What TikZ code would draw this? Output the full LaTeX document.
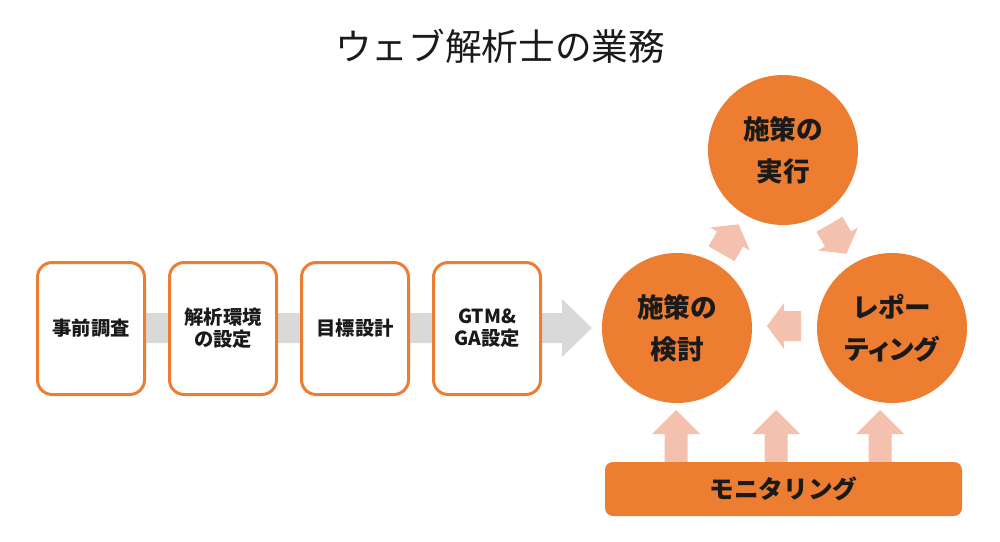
\documentclass[tikz,border=0pt]{standalone}
\usepackage{fontspec}
\setmainfont{Noto Sans CJK JP}
\newfontfamily\jpp{Noto Sans CJK JP}[RawFeature=+palt]
\usetikzlibrary{calc}
\definecolor{orng}{HTML}{ED7D31}
\definecolor{pale}{HTML}{F4C1AE}
\definecolor{band}{HTML}{D9D9D9}
\definecolor{ink}{HTML}{1A1A1A}
\begin{document}
\begin{tikzpicture}[x=0.75pt,y=-0.75pt,
  stepbox/.style={draw=orng, line width=2.25pt, fill=white, rounded corners=11pt,
    minimum width=80.25pt, minimum height=99pt, inner sep=0pt, align=center,
    text=ink, font=\jpp\bfseries\fontsize{14.5}{16.5}\selectfont},
  phase/.style={circle, fill=orng, minimum size=112.5pt, inner sep=0pt, align=center,
    text=ink, font=\jpp\bfseries\fontsize{20}{31.5}\selectfont},
  monbar/.style={fill=orng, rounded corners=6pt, minimum width=267.75pt,
    minimum height=40.5pt, inner sep=0pt, text=ink,
    font=\bfseries\fontsize{18.5}{20}\selectfont},
  cyclearrow/.style={fill=pale},
  flowband/.style={fill=band},
  titletext/.style={text=ink, font=\fontsize{27.5}{30}\selectfont}
]
\useasboundingbox (0,0) rectangle (1000,542);

\node[titletext] (title) at (500,46) {ウェブ解析士の業務};

% grey flow arrow behind the boxes
\coordinate (gtail) at (91,328);
\coordinate (gtip) at (592,328);
\fill[flowband] ($(gtail)+(0,-15)$) -- (562,313) -- (562,299) -- (gtip)
  -- (562,357) -- (562,343) -- ($(gtail)+(0,15)$) -- cycle;

\node[stepbox] (b1) at (91,328.5) {事前調査};
\node[stepbox] (b2) at (223,328.5) {解析環境\\の設定};
\node[stepbox] (b3) at (355,328.5) {目標設計};
\node[stepbox] (b4) at (487,328.5) {GTM\&\\GA設定};

% cycle
\node[phase] (exec) at (783,150) {施策の\\実行};
\node[phase] (plan) at (677,328) {施策の\\検討};
\node[phase] (report) at (892,328) {レポー\\ティング};

\foreach \cx/\cy/\ang in {730/239/60, 838/239/-60, 784/326/180}{
  \fill[cyclearrow, shift={(\cx,\cy)}, rotate=\ang]
    (-17,-15) -- (0,-15) -- (0,-23) -- (17,0) -- (0,23) -- (0,15) -- (-17,15) -- cycle;
}

% up arrows from monitoring
\foreach \ax in {676,776,880}{
  \fill[cyclearrow] (\ax-11.5,465) -- (\ax-11.5,434) -- (\ax-24,434) -- (\ax,410)
    -- (\ax+24,434) -- (\ax+11.5,434) -- (\ax+11.5,465) -- cycle;
}

\node[monbar] (mon) at (783.5,489) {モニタリング};
\end{tikzpicture}
\end{document}
